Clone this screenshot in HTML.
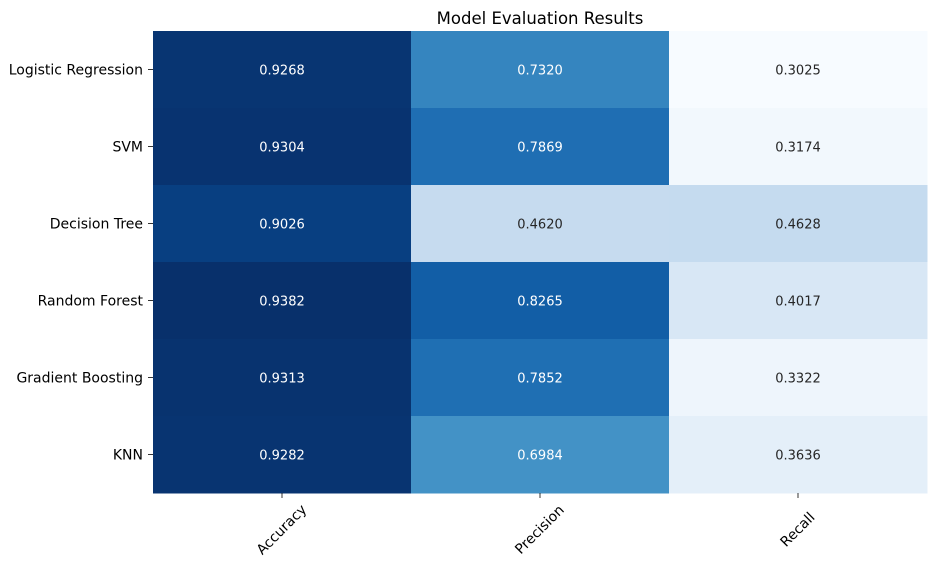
<!DOCTYPE html>
<html><head><meta charset="utf-8">
<style>
html,body{margin:0;padding:0;background:#fff;}
svg{display:block;font-family:"DejaVu Sans","Liberation Sans",sans-serif;}
</style></head>
<body>
<svg id="chart" width="937" height="568">
<text x="540" y="24" text-anchor="middle" font-size="16.5" fill="#000">Model Evaluation Results</text>
<g id="cells"></g>
<g id="labels"></g>
</svg>
<script>
const models = ["Logistic Regression","SVM","Decision Tree","Random Forest","Gradient Boosting","KNN"];
const metrics = ["Accuracy","Precision","Recall"];
const accuracy = [0.9268,0.9304,0.9026,0.9382,0.9313,0.9282];
const precision = [0.7320,0.7869,0.4620,0.8265,0.7852,0.6984];
const recall = [0.3025,0.3174,0.4628,0.4017,0.3322,0.3636];
const series = [accuracy, precision, recall];

const X0=153, X1=927, Y0=31, Y1=493;
const cw=(X1-X0)/metrics.length, rh=(Y1-Y0)/models.length;
const xPos = i => X0 + i*cw;
const yPos = j => Y0 + j*rh;
const all = series.flat();
const vmin = Math.min(...all), vmax = Math.max(...all);
const stops = ["#f7fbff","#deebf7","#c6dbef","#9ecae1","#6baed6","#4292c6","#2171b5","#08519c","#08306b"];
function hex(h){return [1,3,5].map(k=>parseInt(h.substr(k,2),16));}
function blues(t){
  t=Math.max(0,Math.min(1,t));
  const p=t*(stops.length-1), i=Math.min(Math.floor(p),stops.length-2), f=p-i;
  const a=hex(stops[i]), b=hex(stops[i+1]);
  return "rgb("+a.map((v,k)=>Math.round(v+(b[k]-v)*f)).join(",")+")";
}
const NS="http://www.w3.org/2000/svg";
const cells=document.getElementById("cells"), labels=document.getElementById("labels");
series.forEach((vals,i)=>{
  vals.forEach((v,j)=>{
    const t=(v-vmin)/(vmax-vmin);
    const r=document.createElementNS(NS,"rect");
    r.setAttribute("x",xPos(i)); r.setAttribute("y",yPos(j));
    r.setAttribute("width",cw+0.5); r.setAttribute("height",rh+0.5);
    r.setAttribute("fill",blues(t));
    
    
    cells.appendChild(r);
    const tx=document.createElementNS(NS,"text");
    tx.setAttribute("x",xPos(i)+cw/2); tx.setAttribute("y",yPos(j)+rh/2+5);
    tx.setAttribute("text-anchor","middle"); tx.setAttribute("font-size","13");
    tx.setAttribute("fill", t>0.5?"#ffffff":"#262626");
    tx.textContent=v.toFixed(4);
    
    
    cells.appendChild(tx);
  });
});
models.forEach((m,j)=>{
  const y=yPos(j)+rh/2;
  const tk=document.createElementNS(NS,"line");
  tk.setAttribute("x1",X0-5); tk.setAttribute("x2",X0); tk.setAttribute("y1",y); tk.setAttribute("y2",y);
  tk.setAttribute("stroke","#000"); tk.setAttribute("stroke-width","0.8");
  
  
  labels.appendChild(tk);
  const t=document.createElementNS(NS,"text");
  t.setAttribute("x",X0-10); t.setAttribute("y",y+5);
  t.setAttribute("text-anchor","end"); t.setAttribute("font-size","14");
  t.textContent=m;
  
  
  labels.appendChild(t);
});
metrics.forEach((m,i)=>{
  const x=xPos(i)+cw/2;
  const tk=document.createElementNS(NS,"line");
  tk.setAttribute("x1",x); tk.setAttribute("x2",x); tk.setAttribute("y1",Y1); tk.setAttribute("y2",Y1+5);
  tk.setAttribute("stroke","#000"); tk.setAttribute("stroke-width","0.8");
  
  
  labels.appendChild(tk);
  const t=document.createElementNS(NS,"text");
  const cy=Y1+37;
  t.setAttribute("x",x); t.setAttribute("y",cy+4);
  t.setAttribute("text-anchor","middle"); t.setAttribute("font-size","14");
  t.setAttribute("transform","rotate(-45 "+x+" "+cy+")");
  t.textContent=m;
  
  
  labels.appendChild(t);
});
</script>
</body></html>
